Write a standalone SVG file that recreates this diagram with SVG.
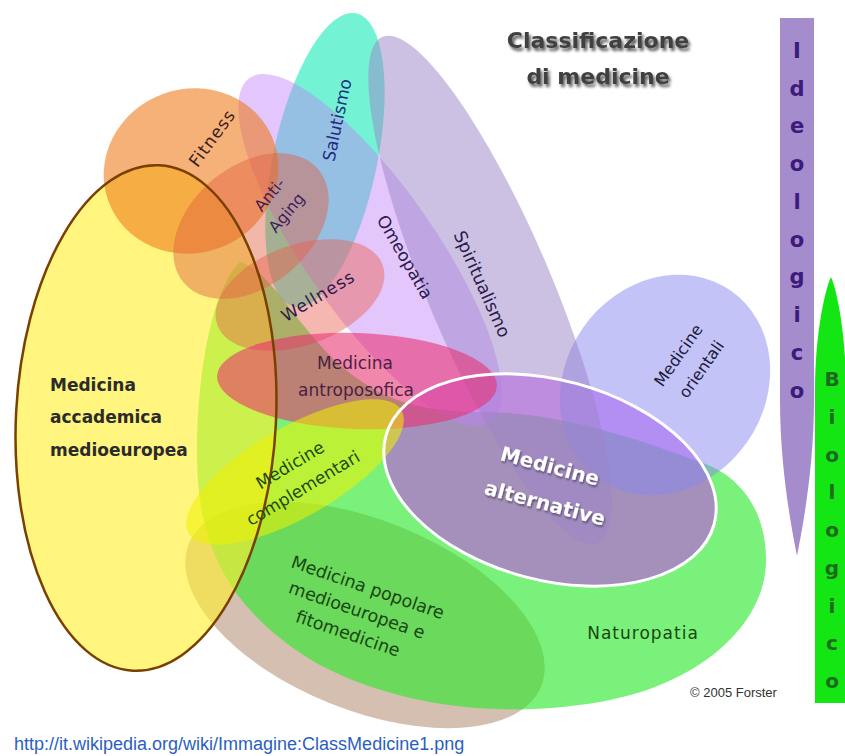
<svg xmlns="http://www.w3.org/2000/svg" width="845" height="756" viewBox="0 0 845 756">
  <defs>
    <filter id="titleShadow" x="-10%" y="-40%" width="130%" height="190%">
      <feGaussianBlur in="SourceAlpha" stdDeviation="1.8"/>
      <feOffset dx="2" dy="3"/>
      <feComponentTransfer><feFuncA type="linear" slope="0.65"/></feComponentTransfer>
      <feMerge><feMergeNode/><feMergeNode in="SourceGraphic"/></feMerge>
    </filter>
    <filter id="softShadow" x="-10%" y="-40%" width="130%" height="190%">
      <feGaussianBlur in="SourceAlpha" stdDeviation="1"/>
      <feOffset dx="1" dy="1.5"/>
      <feComponentTransfer><feFuncA type="linear" slope="0.45"/></feComponentTransfer>
      <feMerge><feMergeNode/><feMergeNode in="SourceGraphic"/></feMerge>
    </filter>
  </defs>
  <style>
    .lbl { font-family: "Comic Sans MS", "DejaVu Sans", sans-serif; font-size: 17px; text-anchor: middle; }
    .bold { font-weight: bold; }
    .bar { font-family: "Comic Sans MS", "DejaVu Sans", sans-serif; font-weight: 700; font-size: 21px; text-anchor: middle; }
    .small { font-family: "Liberation Sans", Arial, sans-serif; }
  </style>
  <rect width="845" height="756" fill="#ffffff"/>

  <!-- translucent sets, bottom to top -->
  <g id="sets">
    <ellipse id="set-popolare" cx="365" cy="615" rx="190" ry="95" transform="rotate(22 365 615)" fill="#a07050" fill-opacity="0.45"/>
    <path id="set-naturopatia" d="M240,262 C215,285 198,360 197,450 C196,540 225,610 320,665 C410,712 520,718 610,700 C700,682 766,625 766,560 C766,510 740,475 700,462 C640,440 560,412 480,412 C420,412 380,400 340,365 C300,330 270,270 240,262 Z" fill="#28e828" fill-opacity="0.62"/>
    <ellipse id="set-accademica" cx="146" cy="418" rx="130" ry="253" transform="rotate(3 146 418)" fill="#ffef30" fill-opacity="0.62"/>
    <ellipse id="set-alternative" cx="550" cy="480" rx="170" ry="100" transform="rotate(15 550 480)" fill="#c840f0" fill-opacity="0.55"/>
    <ellipse id="set-orientali" cx="665" cy="385" rx="100" ry="115" transform="rotate(35 665 385)" fill="#8888f0" fill-opacity="0.5"/>
    <ellipse id="set-salutismo" cx="325" cy="160" rx="52" ry="150" transform="rotate(12 325 160)" fill="#00e8b0" fill-opacity="0.55"/>
    <ellipse id="set-omeopatia" cx="370" cy="250" rx="65" ry="210" transform="rotate(-35 370 250)" fill="#c080f8" fill-opacity="0.45"/>
    <ellipse id="set-spiritualismo" cx="490" cy="290" rx="62" ry="275" transform="rotate(-23 490 290)" fill="#9c84c8" fill-opacity="0.5"/>
    <ellipse id="set-fitness" cx="191" cy="171" rx="88" ry="82" transform="rotate(-20 191 171)" fill="#f07818" fill-opacity="0.58"/>
    <ellipse id="set-antiaging" cx="251" cy="226" rx="88" ry="60" transform="rotate(-40 251 226)" fill="#e06040" fill-opacity="0.45"/>
    <ellipse id="set-wellness" cx="300" cy="295" rx="88" ry="50" transform="rotate(-20 300 295)" fill="#e86050" fill-opacity="0.45"/>
    <ellipse id="set-antroposofica" cx="357" cy="381" rx="140" ry="48" transform="rotate(2 357 381)" fill="#e83070" fill-opacity="0.58"/>
    <ellipse id="set-complementari" cx="295" cy="472" rx="123" ry="45" transform="rotate(-30 295 472)" fill="#f0f000" fill-opacity="0.55"/>
    <!-- outlines drawn above all fills -->
    <ellipse cx="146" cy="418" rx="130" ry="253" transform="rotate(3 146 418)" fill="none" stroke="#7a4000" stroke-width="2.5"/>
    <ellipse cx="550" cy="480" rx="170" ry="100" transform="rotate(15 550 480)" fill="none" stroke="#ffffff" stroke-width="3"/>
  </g>

  <!-- axis bars -->
  <g id="bar-ideologico">
    <path d="M780,18 H814 V400 C814,470 802,530 797,556 C792,530 780,470 780,400 Z" fill="#a58ccd"/>
    <g class="bar" fill="#3b1b7b">
      <text x="797" y="58">I</text>
      <text x="797" y="96">d</text>
      <text x="797" y="133">e</text>
      <text x="797" y="171">o</text>
      <text x="797" y="209">l</text>
      <text x="797" y="247">o</text>
      <text x="797" y="284">g</text>
      <text x="797" y="322">i</text>
      <text x="797" y="360">c</text>
      <text x="797" y="398">o</text>
    </g>
  </g>
  <g id="bar-biologico">
    <path d="M815,703 V390 C815,330 826,287 831,277 C837,290 846,335 846,390 V703 Z" fill="#14e614"/>
    <g class="bar" fill="#1c6b1c" style="font-size:20px">
      <text x="832" y="386">B</text>
      <text x="832" y="424">i</text>
      <text x="832" y="461.5">o</text>
      <text x="832" y="499">l</text>
      <text x="832" y="537">o</text>
      <text x="832" y="575">g</text>
      <text x="832" y="612.5">i</text>
      <text x="832" y="650">c</text>
      <text x="832" y="688">o</text>
    </g>
  </g>

  <!-- set labels -->
  <g id="labels">
    <g id="lbl-accademica" class="lbl bold" fill="#2b2b2b" style="text-anchor:start">
      <text x="50" y="391">Medicina</text>
      <text x="50" y="423">accademica</text>
      <text x="50" y="456">medioeuropea</text>
    </g>
    <text id="lbl-fitness" class="lbl" fill="#3b2020" letter-spacing="1" transform="translate(212 138) rotate(-54)" y="6">Fitness</text>
    <text id="lbl-salutismo" class="lbl" fill="#1e2e80" transform="translate(337 120) rotate(-78)" y="6">Salutismo</text>
    <g id="lbl-antiaging" class="lbl" fill="#3d1f5c" style="font-size:16px">
      <text transform="translate(270 195) rotate(-50)" y="5">Anti-</text>
      <text transform="translate(287 213) rotate(-50)" y="5">Aging</text>
    </g>
    <text id="lbl-wellness" class="lbl" fill="#2b1b4b" letter-spacing="1" transform="translate(318 296) rotate(-31)" y="6">Wellness</text>
    <text id="lbl-omeopatia" class="lbl" fill="#2b1b4b" transform="translate(405 257) rotate(60)" y="6">Omeopatia</text>
    <text id="lbl-spiritualismo" class="lbl" fill="#2b1b4b" style="font-size:17.5px" transform="translate(482 284) rotate(66)" y="6">Spiritualismo</text>
    <g id="lbl-antroposofica" class="lbl" fill="#4b1f45">
      <text x="355" y="369">Medicina</text>
      <text x="356" y="396">antroposofica</text>
    </g>
    <g id="lbl-complementari" class="lbl" fill="#1b4a12">
      <text transform="translate(290 465) rotate(-31)" y="6">Medicine</text>
      <text transform="translate(303 488) rotate(-31)" y="6">complementari</text>
    </g>
    <g id="lbl-alternative" class="lbl bold" fill="#ffffff" style="font-size:20px" filter="url(#softShadow)">
      <text transform="translate(550 466) rotate(15)" y="7">Medicine</text>
      <text transform="translate(545 503) rotate(15)" y="7">alternative</text>
    </g>
    <g id="lbl-orientali" class="lbl" fill="#1a1a3a" style="font-size:16px">
      <text transform="translate(678 355) rotate(-55)" y="6">Medicine</text>
      <text transform="translate(701 369) rotate(-55)" y="6">orientali</text>
    </g>
    <g id="lbl-popolare" class="lbl" fill="#1b4712" style="text-anchor:start;font-size:17.5px" transform="translate(290 567) rotate(19)">
      <text x="0" y="0">Medicina popolare</text>
      <text x="6" y="25">medioeuropea e</text>
      <text x="22" y="50">fitomedicine</text>
    </g>
    <text id="lbl-naturopatia" class="lbl" fill="#1b4712" letter-spacing="1" x="643" y="639">Naturopatia</text>
  </g>

  <!-- title and credits -->
  <g id="title" class="lbl bold" fill="#404040" style="font-size:22px" filter="url(#titleShadow)">
    <text x="598" y="48">Classificazione</text>
    <text x="598" y="84">di medicine</text>
  </g>
  <text id="copyright" class="small" x="690" y="697" font-size="13" fill="#333333">© 2005 Forster</text>
  <text id="source" class="small" x="14" y="750" font-size="18" fill="#2a5fc0">http://it.wikipedia.org/wiki/Immagine:ClassMedicine1.png</text>
</svg>
